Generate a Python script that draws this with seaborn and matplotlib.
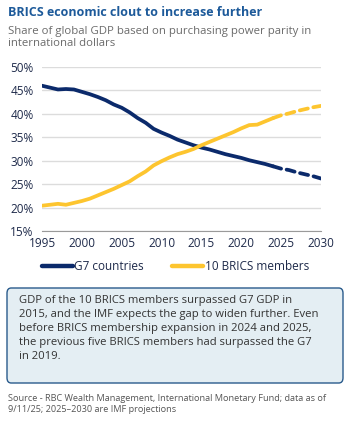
import numpy as np
import pandas as pd
import matplotlib.pyplot as plt
import seaborn as sns
from matplotlib.lines import Line2D
from matplotlib.patches import FancyBboxPatch

sns.set_style("white")
plt.rcParams['font.family'] = ['Open Sans', 'DejaVu Sans']

# Share of global GDP (PPP), percent; 2025-2030 are IMF projections
years = list(range(1995, 2031))
g7 = [46.0, 45.6, 45.2, 45.3, 45.2, 44.7, 44.2, 43.6, 42.9, 42.0,
      41.3, 40.3, 39.1, 38.1, 36.8, 36.0, 35.3, 34.5, 33.9, 33.3,
      32.8, 32.4, 31.9, 31.4, 31.0, 30.6, 30.1, 29.7, 29.3, 28.8,
      28.3, 28.0, 27.5, 27.1, 26.7, 26.2]
brics = [20.4, 20.6, 20.8, 20.6, 21.0, 21.4, 21.9, 22.6, 23.3, 24.0,
         24.8, 25.6, 26.7, 27.7, 29.0, 29.9, 30.7, 31.4, 31.9, 32.5,
         33.3, 34.0, 34.7, 35.4, 36.1, 36.9, 37.6, 37.7, 38.4, 39.1,
         39.7, 40.1, 40.6, 41.0, 41.4, 41.7]
last_actual = 2024
series_names = ["G7 countries", "10 BRICS members"]
colors = {"G7 countries": "#0b2a6b", "10 BRICS members": "#fdc52f"}
yticks = [15, 20, 25, 30, 35, 40, 45, 50]
xticks = [1995, 2000, 2005, 2010, 2015, 2020, 2025, 2030]

rows = []
for name, vals in zip(series_names, [g7, brics]):
    for y, v in zip(years, vals):
        if y <= last_actual:
            rows.append((y, v, name, "actual"))
        if y >= last_actual:
            rows.append((y, v, name, "projection"))
df = pd.DataFrame(rows, columns=["year", "share", "series", "kind"])

fig = plt.figure(figsize=(3.51, 4.33), dpi=100)
ax = fig.add_axes([0.1197, 0.4665, 0.7948, 0.3788])

sns.lineplot(data=df, x="year", y="share", hue="series", style="kind",
             palette=colors, dashes={"actual": "", "projection": (2.2, 1.5)},
             linewidth=2.7, legend=False, ax=ax, estimator=None,
             units="kind", sort=True)
for ln in ax.get_lines():
    ln.set_solid_capstyle("round")
    ln.set_dash_capstyle("round")

ax.set_xlim(1995, 2030)
ax.set_ylim(15, 50)
ax.set_xticks(xticks)
ax.set_yticks(yticks)
ax.set_yticklabels([f"{t}%" for t in yticks])
ax.set_xlabel("")
ax.set_ylabel("")
ax.grid(axis="y", color="#dcdcdc", linewidth=1)
ax.set_axisbelow(True)
for s in ["top", "right", "left"]:
    ax.spines[s].set_visible(False)
ax.spines["bottom"].set_color("#9a9a9a")
ax.spines["bottom"].set_linewidth(0.8)
ax.tick_params(axis="x", length=3, color="#b0b0b0", labelsize=8.5,
               labelcolor="#1e2a4a", pad=1)
ax.tick_params(axis="y", length=0, labelsize=8.5, labelcolor="#1e2a4a", pad=6)

# Title and subtitle
fig.text(8 / 351, 1 - 12 / 433, "BRICS economic clout to increase further",
         fontsize=9.0, fontweight="bold", color="#1d5a9a", va="center")
fig.text(8 / 351, 1 - 26 / 433,
         "Share of global GDP based on purchasing power parity in\ninternational dollars",
         fontsize=8.2, color="#6b6b6b", va="top", linespacing=1.15)

# Legend
handles = [Line2D([], [], color=colors[n], linewidth=3.2, solid_capstyle="round")
           for n in series_names]
fig.legend(handles, series_names, loc="center", bbox_to_anchor=(0.5, 1 - 267 / 433),
           ncol=2, frameon=False, fontsize=8.5, handlelength=2.6,
           handletextpad=0.15, columnspacing=2.4, labelcolor="#1e2a4a")

# Note box
box = FancyBboxPatch((7 / 351, 1 - 383 / 433), 336 / 351, 95 / 433,
                     boxstyle="round,pad=0,rounding_size=0.012",
                     transform=fig.transFigure, facecolor="#e4eef3",
                     edgecolor="#2a5b8c", linewidth=1.0)
fig.patches.append(box)
fig.text(19 / 351, 1 - 295 / 433,
         "GDP of the 10 BRICS members surpassed G7 GDP in\n"
         "2015, and the IMF expects the gap to widen further. Even\n"
         "before BRICS membership expansion in 2024 and 2025,\n"
         "the previous five BRICS members had surpassed the G7\n"
         "in 2019.",
         fontsize=8.1, color="#333333", va="top", linespacing=1.36)

# Source
fig.text(8 / 351, 1 - 394 / 433,
         "Source - RBC Wealth Management, International Monetary Fund; data as of\n"
         "9/11/25; 2025\u20132030 are IMF projections",
         fontsize=6.6, color="#555555", va="top", linespacing=1.25)

fig.savefig("out.png", dpi=100)
